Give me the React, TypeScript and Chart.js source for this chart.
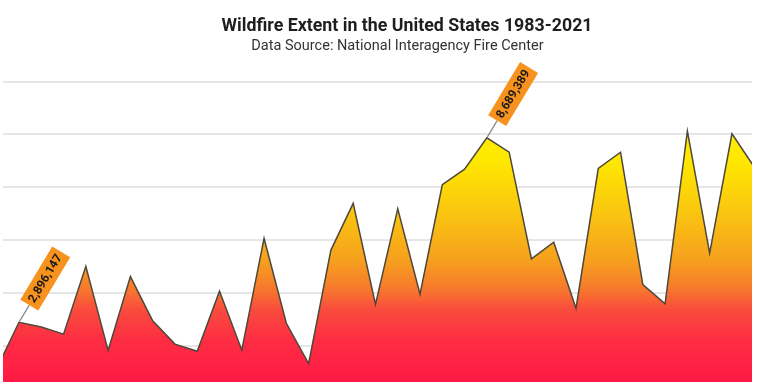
import React, { useEffect, useRef } from "react";
import { Chart, registerables } from "chart.js";

Chart.register(...registerables);

const years = [
  1983, 1984, 1985, 1986, 1987, 1988, 1989, 1990, 1991, 1992, 1993, 1994, 1995,
  1996, 1997, 1998, 1999, 2000, 2001, 2002, 2003, 2004, 2005, 2006, 2007, 2008,
  2009, 2010, 2011, 2012, 2013, 2014, 2015, 2016, 2017, 2018, 2019, 2020, 2021,
];

const acres = [
  1323666, 1148409, 2896147, 2719162, 2447296, 5009290, 1827310, 4621621,
  2953578, 2069929, 1797574, 4073579, 1840546, 6065998, 2856959, 1329704,
  5626093, 7393493, 3570911, 7184712, 3960842, 8097880, 8689389, 9873745,
  9328045, 5292468, 5921786, 3422724, 8711367, 9326238, 4319546, 3595613,
  10125149, 5509995, 10026086, 8767492, 4664364, 10122336, 7125643,
];

const gridValues = [2000000, 4000000, 6000000, 8000000, 10000000, 12000000];

const annotationYears = [1985, 2006];
const annotationLabels = ["2,896,147", "8,689,389"];

const titleText = "Wildfire Extent in the United States 1983-2021";
const subtitleText = "Data Source: National Interagency Fire Center";

const subtitlePlugin = {
  id: "offsetSubtitle",
  afterDraw(chart: any) {
    const ctx = chart.ctx;
    const area = chart.chartArea;
    ctx.save();
    ctx.font = "14.5px Roboto";
    ctx.fillStyle = "#333333";
    ctx.textAlign = "center";
    ctx.textBaseline = "middle";
    ctx.fillText(subtitleText, (area.left + area.right) / 2 + 20, 46);
    ctx.restore();
  },
};

const annotationPlugin = {
  id: "rotatedLabels",
  afterDatasetsDraw(chart: any) {
    const meta = chart.getDatasetMeta(0);
    const ctx = chart.ctx;
    const ang = (-59 * Math.PI) / 180;
    const dx = Math.cos(ang);
    const dy = Math.sin(ang);
    annotationYears.forEach((yr, i) => {
      const idx = years.indexOf(yr);
      const pt = meta.data[idx];
      if (!pt) return;
      const x = pt.x;
      const y = pt.y;
      ctx.save();
      ctx.strokeStyle = "#7d8791";
      ctx.lineWidth = 1.2;
      ctx.beginPath();
      ctx.moveTo(x + dx * 1, y + dy * 1);
      ctx.lineTo(x + dx * 20, y + dy * 20);
      ctx.stroke();
      ctx.translate(x + dx * 20, y + dy * 20);
      ctx.rotate(ang);
      ctx.fillStyle = "rgb(247,146,30)";
      ctx.fillRect(0, -10.5, 62, 21);
      ctx.fillStyle = "#1a1a1a";
      ctx.font = "bold 12px Roboto";
      ctx.textAlign = "center";
      ctx.textBaseline = "middle";
      ctx.fillText(annotationLabels[i], 31, 0.5);
      ctx.restore();
    });
  },
};

export default function App() {
  const ref = useRef<HTMLCanvasElement | null>(null);
  useEffect(() => {
    if (!ref.current) return;
    const points = years.map((yr, i) => ({ x: yr, y: acres[i] }));
    const chart = new Chart(ref.current, {
      type: "line",
      data: {
        datasets: [
          {
            data: points,
            borderColor: "rgb(78,72,58)",
            borderWidth: 1.5,
            pointRadius: 0,
            tension: 0,
            fill: "start",
            backgroundColor: (c: any) => {
              const ch = c.chart;
              const area = ch.chartArea;
              if (!area) return "rgb(255,60,60)";
              const g = ch.ctx.createLinearGradient(0, area.bottom, 0, area.top);
              g.addColorStop(0, "rgb(255,25,68)");
              g.addColorStop(0.13, "rgb(253,45,68)");
              g.addColorStop(0.225, "rgb(250,75,62)");
              g.addColorStop(0.29, "rgb(247,120,45)");
              g.addColorStop(0.38, "rgb(246,160,30)");
              g.addColorStop(0.54, "rgb(250,200,15)");
              g.addColorStop(0.69, "rgb(255,232,0)");
              g.addColorStop(1, "rgb(255,245,0)");
              return g;
            },
          },
        ],
      },
      options: {
        responsive: false,
        animation: false,
        devicePixelRatio: 1,
        layout: { padding: { left: 3, right: 5, top: 0, bottom: 4 } },
        plugins: {
          legend: { display: false },
          tooltip: { enabled: false },
          title: {
            display: true,
            text: titleText,
            color: "#1e1e1e",
            font: { family: "Roboto", size: 17.8, weight: "bold", lineHeight: 1.2 },
            padding: { top: 16, bottom: 24.64 },
          },
          subtitle: { display: false },
        },
        scales: {
          x: {
            type: "linear",
            display: false,
            min: 1984.282,
            max: 2017.9,
          },
          y: {
            position: "right",
            min: 636000,
            max: 12740000,
            border: { display: false },
            grid: { color: "#e6e6e6", lineWidth: 2, drawTicks: false },
            ticks: { display: false },
            afterBuildTicks: (s: any) => {
              s.ticks = gridValues.map((v) => ({ value: v }));
            },
            afterFit: (s: any) => {
              s.width = 59;
            },
          },
        },
      },
      plugins: [annotationPlugin, subtitlePlugin],
    });
    return () => chart.destroy();
  }, []);
  return (
    <div
      style={{
        position: "fixed",
        left: 0,
        top: 0,
        width: 757,
        height: 386,
        overflow: "hidden",
        background: "#ffffff",
      }}
    >
      <canvas ref={ref} width={816} height={386} style={{ width: 816, height: 386, display: "block" }} />
    </div>
  );
}
